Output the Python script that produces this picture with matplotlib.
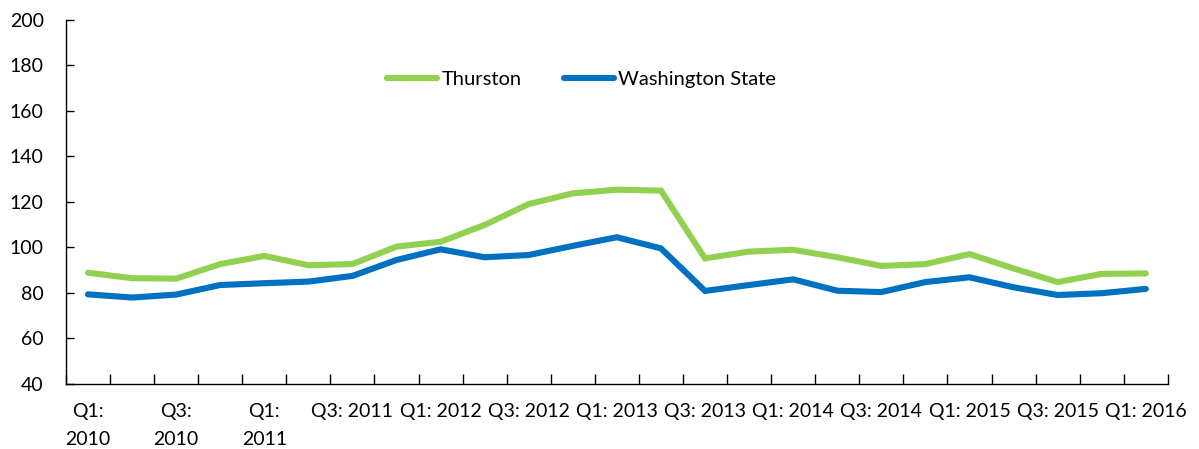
import matplotlib
matplotlib.use('Agg')
import matplotlib.pyplot as plt
import numpy as np

quarters = ["Q1: 2010", "Q2: 2010", "Q3: 2010", "Q4: 2010",
            "Q1: 2011", "Q2: 2011", "Q3: 2011", "Q4: 2011",
            "Q1: 2012", "Q2: 2012", "Q3: 2012", "Q4: 2012",
            "Q1: 2013", "Q2: 2013", "Q3: 2013", "Q4: 2013",
            "Q1: 2014", "Q2: 2014", "Q3: 2014", "Q4: 2014",
            "Q1: 2015", "Q2: 2015", "Q3: 2015", "Q4: 2015",
            "Q1: 2016"]
thurston = [88.9, 86.5, 86.3, 92.7, 96.3, 92.2, 92.7, 100.4, 102.5, 109.9,
            119.1, 123.8, 125.4, 125.0, 95.2, 98.2, 99.0, 95.7, 91.9, 92.7,
            97.1, 90.8, 84.8, 88.4, 88.6]
washington = [79.4, 78.0, 79.3, 83.5, 84.3, 85.0, 87.5, 94.5, 99.2, 95.7,
              96.7, 100.7, 104.5, 99.6, 80.9, 83.5, 86.0, 81.0, 80.4, 84.8,
              86.9, 82.5, 79.1, 79.9, 81.8]
# labels shown on every other quarter; first three wrap in the original
tick_labels = ["Q1:\n2010", "Q3:\n2010", "Q1:\n2011", "Q3: 2011", "Q1: 2012",
               "Q3: 2012", "Q1: 2013", "Q3: 2013", "Q1: 2014", "Q3: 2014",
               "Q1: 2015", "Q3: 2015", "Q1: 2016"]

plt.rcParams['font.family'] = ['Lato', 'DejaVu Sans']

fig = plt.figure(figsize=(11.99, 4.49), dpi=100)
ax = fig.add_axes([0.055, 0.1448, 0.919, 0.8107])

x = np.arange(len(quarters))
ax.plot(x, thurston, color='#92D050', lw=4.4, solid_capstyle='round',
        solid_joinstyle='miter', label='Thurston')
ax.plot(x, washington, color='#0070C0', lw=4.4, solid_capstyle='round',
        solid_joinstyle='miter', label='Washington State')

ax.set_xlim(-0.5, len(quarters) - 0.5)
ax.set_ylim(40, 200)
ax.set_yticks(np.arange(40, 201, 20))

ax.set_xticks(x[::2])
ax.set_xticklabels(tick_labels)
ax.set_xticks(np.arange(-0.5, len(quarters)), minor=True)
ax.tick_params(axis='x', which='major', length=0, pad=14, labelsize=14,
               colors='#000000')
ax.tick_params(axis='x', which='minor', direction='in', length=7, width=1)
ax.tick_params(axis='y', direction='in', length=6, width=1, labelsize=14,
               pad=16)
for lab in ax.get_xticklabels():
    lab.set_linespacing(1.75)

for s in ['top', 'right']:
    ax.spines[s].set_visible(False)
for s in ['left', 'bottom']:
    ax.spines[s].set_linewidth(1)

ax.legend(loc='center', bbox_to_anchor=(0.485, 0.822),
          bbox_transform=fig.transFigure, ncol=2, frameon=False,
          fontsize=14.5, handlelength=2.5, handletextpad=0.2,
          columnspacing=2.1)

fig.savefig('out.png', dpi=100)
